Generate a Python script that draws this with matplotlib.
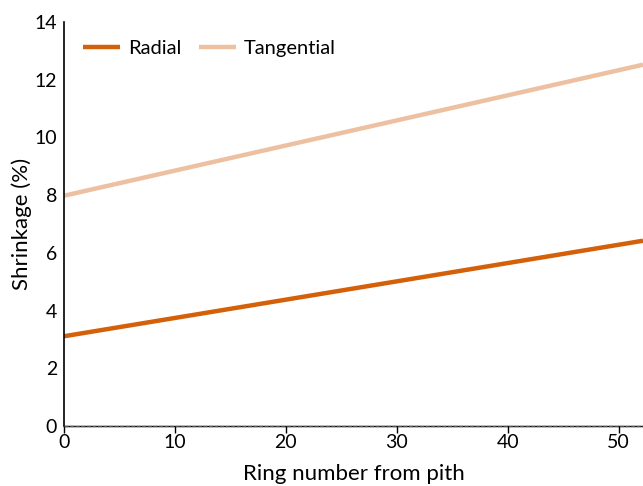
import matplotlib.pyplot as plt

# ring number from pith at the ends of each fitted line
RINGS = [0, 52.2]
RADIAL = [3.11, 6.42]
TANGENTIAL = [7.98, 12.52]

RADIAL_COLOR = "#D4600A"
TANGENTIAL_COLOR = "#EEC0A2"

plt.rcParams["font.family"] = ["Lato", "DejaVu Sans"]

fig = plt.figure(figsize=(6.43, 4.86), dpi=100)
ax = fig.add_axes([64 / 643, 1 - 426 / 486, 1 - 64 / 643, (426 - 22) / 486])

ax.plot(RINGS, RADIAL, color=RADIAL_COLOR, lw=3.2, label="Radial", solid_capstyle="butt")
ax.plot(RINGS, TANGENTIAL, color=TANGENTIAL_COLOR, lw=3.2, label="Tangential",
        solid_capstyle="butt")

ax.set_xlim(0, 52.2)
ax.set_ylim(0, 14)
ax.set_xticks(range(0, 51, 10))
ax.set_yticks(range(0, 15, 2))
ax.tick_params(axis="x", direction="out", length=5, width=1, labelsize=14, pad=1)
ax.tick_params(axis="y", length=0, labelsize=14, pad=5)

for s in ("top", "right"):
    ax.spines[s].set_visible(False)
ax.spines["left"].set_linewidth(1.2)
ax.spines["bottom"].set_linewidth(1.0)
ax.axhline(0, color="#555555", lw=1, ls=(0, (3, 1)), zorder=3, clip_on=False)

ax.set_xlabel("Ring number from pith", fontsize=16, labelpad=9)
ax.set_ylabel("Shrinkage (%)", fontsize=16, labelpad=2)

ax.legend(loc="upper left", frameon=False, ncol=2, fontsize=14.5,
          handlelength=1.85, columnspacing=0.85, handletextpad=0.4,
          borderpad=0, borderaxespad=0, bbox_to_anchor=(0.033, 0.956))

fig.savefig("out.png", dpi=100)
